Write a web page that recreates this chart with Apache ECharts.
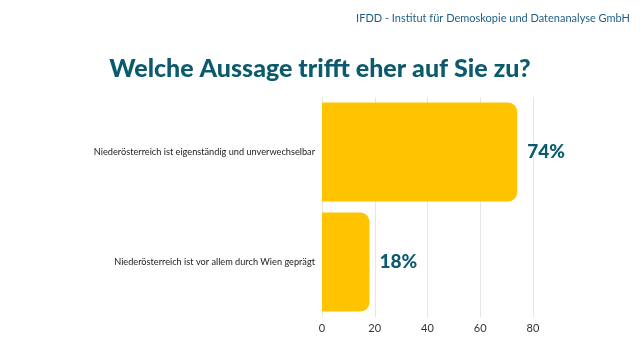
<!DOCTYPE html>
<html><head><meta charset="utf-8">
<script src="https://cdn.jsdelivr.net/npm/echarts@6/dist/echarts.min.js"></script>
<style>html,body{margin:0;padding:0;background:#fff}#c{width:640px;height:360px}</style>
</head><body><div id="c"></div>
<script>
const categories = ["Niederösterreich ist eigenständig und unverwechselbar", "Niederösterreich ist vor allem durch Wien geprägt"];
const values = [74, 18];
const xTicks = [0, 20, 40, 60, 80];

const chart = echarts.init(document.getElementById('c'));
chart.setOption({
  backgroundColor: '#fff',
  animation: false,
  title: [
    {text: 'IFDD - Institut für Demoskopie und Datenanalyse GmbH', right: 5, top: 8,
     textStyle: {fontFamily: 'Lato', fontWeight: 'normal', fontSize: 11, color: '#1f5f86'}},
    {text: 'Welche Aussage trifft eher auf Sie zu?', left: 'center', top: 51,
     textStyle: {fontFamily: 'Lato', fontWeight: 900, fontSize: 25, color: '#0b5a6e'}}
  ],
  grid: {left: 322, right: 107, top: 97, bottom: 43},
  xAxis: {type: 'value', min: 0, max: 80, interval: 20,
    axisLine: {show: false}, axisTick: {show: false},
    splitLine: {lineStyle: {color: '#e6e6e6'}},
    axisLabel: {fontFamily: 'Lato', fontSize: 11, color: '#333', margin: 6}},
  yAxis: {type: 'category', data: categories, inverse: true,
    axisLabel: {fontFamily: 'Lato', fontSize: 9.2, color: '#222', margin: 7},
    axisLine: {show: false}, axisTick: {show: false}},
  series: [{type: 'bar', data: values, barCategoryGap: '10%',
    itemStyle: {color: '#ffc300', borderRadius: [0, 9, 9, 0]},
    label: {show: true, position: 'right', distance: 10, formatter: '{c}%',
      fontFamily: 'Lato', fontWeight: 900, fontSize: 19, color: '#0b5a6e'}}]
});
</script></body></html>
